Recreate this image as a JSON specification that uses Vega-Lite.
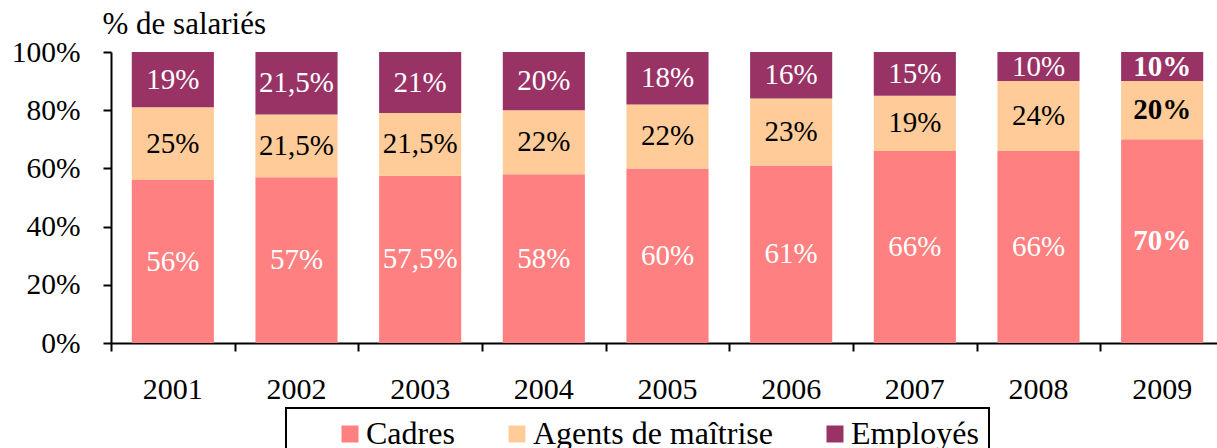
{
  "$schema": "https://vega.github.io/schema/vega-lite/v6.json",
  "autosize": "none",
  "width": 1106,
  "height": 291,
  "padding": {"left": 111, "top": 52, "right": 0, "bottom": 105},
  "background": "white",
  "config": {
    "view": {"stroke": null},
    "font": "Liberation Serif",
    "axis": {"labelFont": "Liberation Serif", "titleFont": "Liberation Serif", "labelColor": "black", "domainColor": "black", "tickColor": "black", "domainWidth": 2, "tickWidth": 2, "tickSize": 8, "grid": false},
    "legend": {"labelFont": "Liberation Serif"}
  },
  "data": {
    "values": [
      {"year": "2001", "cat": "Cadres", "v": 56}, {"year": "2001", "cat": "Agents de maîtrise", "v": 25}, {"year": "2001", "cat": "Employés", "v": 19},
      {"year": "2002", "cat": "Cadres", "v": 57}, {"year": "2002", "cat": "Agents de maîtrise", "v": 21.5}, {"year": "2002", "cat": "Employés", "v": 21.5},
      {"year": "2003", "cat": "Cadres", "v": 57.5}, {"year": "2003", "cat": "Agents de maîtrise", "v": 21.5}, {"year": "2003", "cat": "Employés", "v": 21},
      {"year": "2004", "cat": "Cadres", "v": 58}, {"year": "2004", "cat": "Agents de maîtrise", "v": 22}, {"year": "2004", "cat": "Employés", "v": 20},
      {"year": "2005", "cat": "Cadres", "v": 60}, {"year": "2005", "cat": "Agents de maîtrise", "v": 22}, {"year": "2005", "cat": "Employés", "v": 18},
      {"year": "2006", "cat": "Cadres", "v": 61}, {"year": "2006", "cat": "Agents de maîtrise", "v": 23}, {"year": "2006", "cat": "Employés", "v": 16},
      {"year": "2007", "cat": "Cadres", "v": 66}, {"year": "2007", "cat": "Agents de maîtrise", "v": 19}, {"year": "2007", "cat": "Employés", "v": 15},
      {"year": "2008", "cat": "Cadres", "v": 66}, {"year": "2008", "cat": "Agents de maîtrise", "v": 24}, {"year": "2008", "cat": "Employés", "v": 10},
      {"year": "2009", "cat": "Cadres", "v": 70}, {"year": "2009", "cat": "Agents de maîtrise", "v": 20}, {"year": "2009", "cat": "Employés", "v": 10}
    ]
  },
  "transform": [
    {"calculate": "datum.cat === 'Cadres' ? 0 : datum.cat === 'Agents de maîtrise' ? 1 : 2", "as": "ord"},
    {"stack": "v", "groupby": ["year"], "sort": [{"field": "ord", "order": "ascending"}], "as": ["y0", "y1"]},
    {"calculate": "(datum.y0 + datum.y1) / 2", "as": "mid"},
    {"calculate": "replace(toString(datum.v), '.', ',') + '%'", "as": "lab"}
  ],
  "resolve": {"axis": {"x": "independent"}},
  "layer": [
    {
      "mark": {"type": "bar"},
      "encoding": {
        "x": {
          "field": "year", "type": "ordinal",
          "scale": {"range": [0, 1113], "paddingInner": 0.336, "paddingOuter": 0.168},
          "axis": {"title": null, "orient": "bottom", "labelAngle": 0, "labelFontSize": 30, "labelPadding": 31, "ticks": false, "labelBaseline": "top"}
        },
        "y": {
          "field": "y0", "type": "quantitative",
          "scale": {"domain": [0, 100], "nice": false},
          "axis": {
            "values": [0, 20, 40, 60, 80, 100],
            "labelExpr": "datum.value + '%'",
            "labelFontSize": 29.5,
            "labelPadding": 23,
            "title": "% de salariés",
            "titleAngle": 0,
            "titleAlign": "left",
            "titleBaseline": "alphabetic",
            "titleFontSize": 31,
            "titleFontWeight": "normal",
            "titleX": -9,
            "titleY": -19
          }
        },
        "y2": {"field": "y1"},
        "color": {
          "field": "cat", "type": "nominal",
          "scale": {"domain": ["Cadres", "Agents de maîtrise", "Employés"], "range": ["#FF8080", "#FFCC99", "#993366"]},
          "legend": {
            "title": null,
            "orient": "none",
            "legendX": 175,
            "legendY": 356,
            "direction": "horizontal",
            "strokeColor": "black",
            "padding": 10,
            "symbolType": "square",
            "symbolSize": 289,
            "symbolStrokeWidth": 0,
            "symbolOpacity": 1,
            "symbolOffset": 38,
            "labelFontSize": 32,
            "labelOffset": 0,
            "labelLimit": 500,
            "labelColor": "black",
            "columnPadding": 8,
            "encode": {"legend": {"update": {"strokeWidth": {"value": 2}}}}
          }
        }
      }
    },
    {
      "transform": [{"filter": "datum.year !== '2009'"}],
      "mark": {"type": "text", "fontSize": 29, "baseline": "middle", "align": "center"},
      "encoding": {
        "x": {
          "field": "year", "type": "ordinal",
          "axis": {"title": null, "orient": "bottom", "labels": false, "domain": false, "ticks": true, "bandPosition": 0, "tickOffset": -20.8}
        },
        "y": {"field": "mid", "type": "quantitative"},
        "text": {"field": "lab"},
        "color": {"condition": {"test": "datum.cat === 'Agents de maîtrise'", "value": "black"}, "value": "white"}
      }
    },
    {
      "transform": [{"filter": "datum.year === '2009'"}],
      "mark": {"type": "text", "fontSize": 29, "fontWeight": "bold", "baseline": "middle", "align": "center"},
      "encoding": {
        "x": {"field": "year", "type": "ordinal", "axis": null},
        "y": {"field": "mid", "type": "quantitative"},
        "text": {"field": "lab"},
        "color": {"condition": {"test": "datum.cat === 'Agents de maîtrise'", "value": "black"}, "value": "white"}
      }
    }
  ]
}
